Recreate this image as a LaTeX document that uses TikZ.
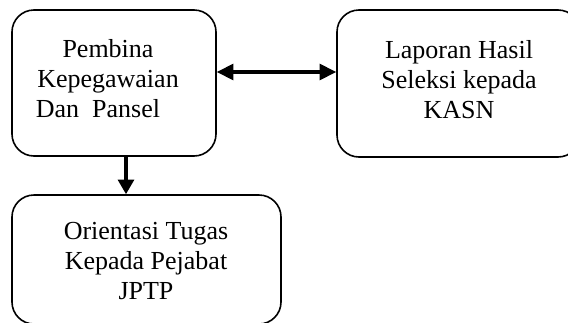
\documentclass[tikz,border=0pt]{standalone}
\usepackage{fontspec}
\setmainfont{Liberation Serif}
\usetikzlibrary{arrows.meta}
\tikzset{every picture/.style={line width=0.75pt}}

\begin{document}
\begin{tikzpicture}[x=0.75pt,y=0.75pt,yscale=-1,xscale=1,
  kotak/.style={draw, rounded corners=16.5pt, line width=1.2pt, inner sep=0pt},
  isi/.style={align=center, inner sep=0pt, font=\fontsize{19.5}{22.5}\selectfont},
  panah/.style={line width=2.4pt, -{Triangle[length=11pt,width=12pt]}},
  panahdua/.style={line width=2.4pt, {Triangle[length=12.5pt,width=12pt]}-{Triangle[length=12.5pt,width=12pt]}}]
%set diagram size 568 x 322
\useasboundingbox (0,0) rectangle (568,322);

%Shape: Rounded Rect [pembina]
\node [kotak, minimum width=153pt, minimum height=109.5pt] (pembina) at (114,83) {};
%Shape: Rounded Rect [laporan]
\node [kotak, minimum width=182.25pt, minimum height=110.25pt] (laporan) at (458.5,83.5) {};
%Shape: Rounded Rect [orientasi]
\node [kotak, minimum width=201.75pt, minimum height=96.75pt] (orientasi) at (146.5,259.5) {};

% Text Node
\node [isi] (tpembina) at (108,78.5) {Pembina\\Kepegawaian\\Dan~ Pansel\hspace*{15pt}};
% Text Node
\node [isi] (tlaporan) at (459,79.5) {Laporan Hasil\\Seleksi kepada\\KASN};
% Text Node
\node [isi] (torientasi) at (146,261.5) {Orientasi Tugas\\Kepada Pejabat\\JPTP};

%Straight Lines
\coordinate (kiri) at ([yshift=-8.25pt]pembina.east);
\draw [panahdua] (kiri) -- (kiri -| laporan.west);
%Straight Lines
\coordinate (atas) at ([xshift=9pt]pembina.south);
\draw [panah] (atas) -- (atas |- orientasi.north);

\end{tikzpicture}
\end{document}
